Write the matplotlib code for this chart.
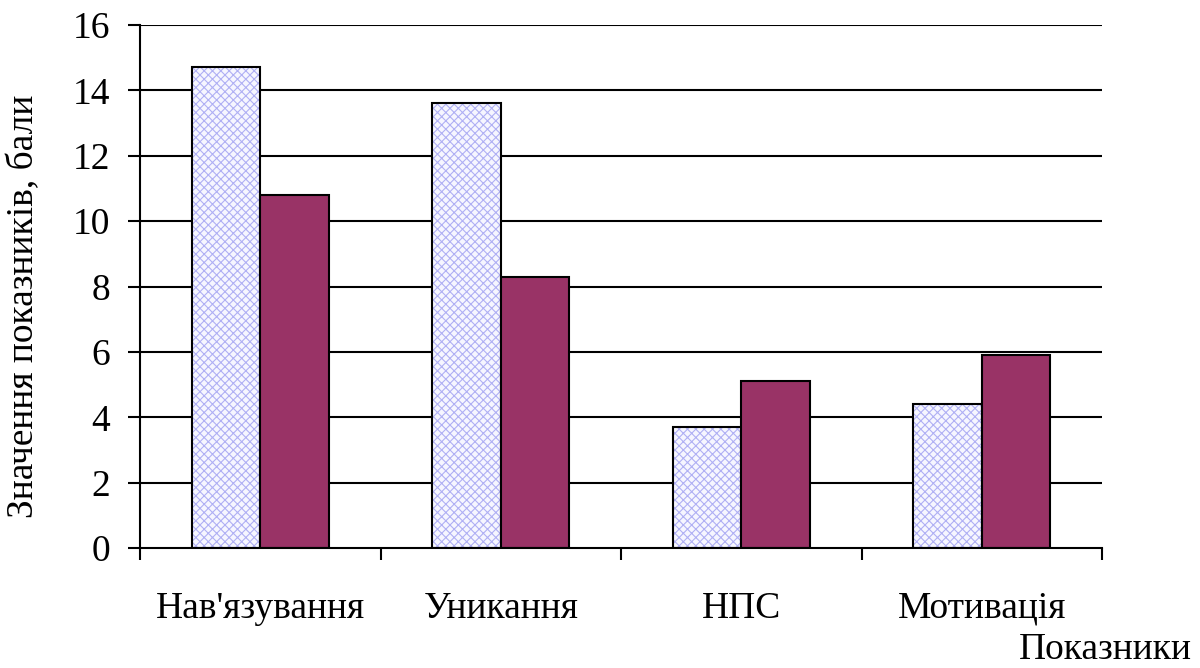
import numpy as np
import matplotlib.pyplot as plt

# Дані
categories = ["Нав'язування", 'Уникання', 'НПС', 'Мотивація']
series_1 = [14.7, 13.6, 3.7, 4.4]
series_2 = [10.8, 8.3, 5.1, 5.9]
y_ticks = [0, 2, 4, 6, 8, 10, 12, 14, 16]

plt.rcParams['font.family'] = ['Liberation Serif', 'DejaVu Serif']
plt.rcParams['hatch.linewidth'] = 0.8

fig = plt.figure(figsize=(12, 6.68), dpi=100)
ax = fig.add_axes([0.1167, 0.1796, 0.8017, 0.783])

x = np.arange(len(categories))
w = 0.285
fs = 27

# Сітка за стовпчиками
for t in y_ticks[1:]:
    ax.axhline(t, color='black', lw=1.5, zorder=1)

# Перша серія: світла штриховка
ax.bar(x - w / 2, series_1, w, color='#f6f6ff', edgecolor='#b0b0f4',
       hatch='xxxx', lw=0, zorder=2)
ax.bar(x - w / 2, series_1, w, fill=False, edgecolor='black', lw=1.5, zorder=3)
# Друга серія
ax.bar(x + w / 2, series_2, w, color='#993366', edgecolor='black', lw=1.5, zorder=3)

ax.set_xlim(-0.5, len(categories) - 0.5)
ax.set_ylim(0, 16)
ax.set_yticks(y_ticks)
ax.set_xticks(np.arange(len(categories) + 1) - 0.5)
ax.set_xticklabels([])
ax.set_xticks(x, minor=True)
ax.set_xticklabels(categories, minor=True, fontsize=fs)
ax.tick_params(axis='x', which='minor', length=0, pad=31)
ax.tick_params(axis='x', which='major', length=8.6, width=1.5, direction='out')
ax.tick_params(axis='y', length=8.6, width=1.5, direction='out', labelsize=fs, pad=13)

for s in ['top', 'right']:
    ax.spines[s].set_visible(False)
ax.spines['left'].set_linewidth(1.5)
ax.spines['bottom'].set_linewidth(1.5)
ax.spines['bottom'].set_zorder(4)

fig.text(0.02, 0.542, 'Значення показників, бали', fontsize=fs,
         rotation=90, ha='center', va='center')
fig.text(0.993, 0.013, 'Показники', fontsize=fs, ha='right', va='baseline')

plt.savefig('out.png', dpi=100)
